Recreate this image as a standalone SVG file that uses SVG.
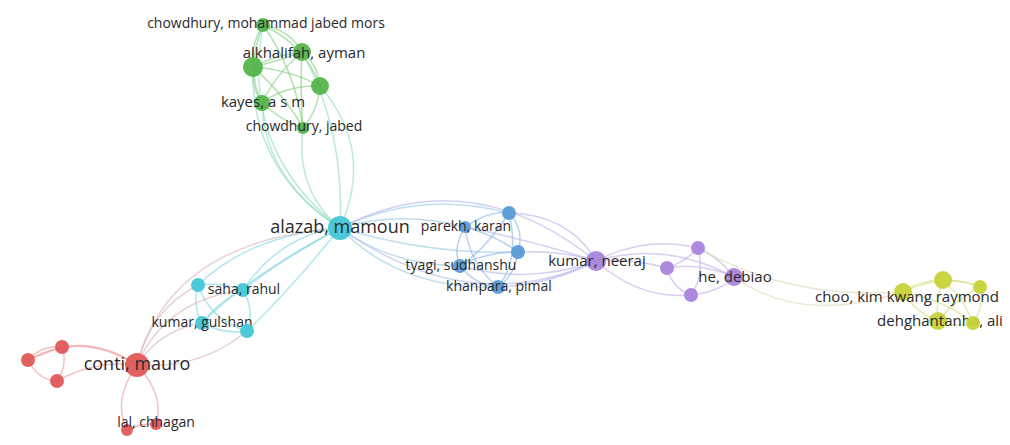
<svg xmlns="http://www.w3.org/2000/svg" width="1010" height="445" viewBox="0 0 1010 445">
  <style>
    .e { fill: none; stroke-width: 1.5; stroke-opacity: 0.6; stroke-linecap: round; }
    .eg { stroke: #7fcf77; }
    .egc { stroke: #8fdcbf; }
    .ec { stroke: #80d4e2; }
    .ecb { stroke: #93c6e6; }
    .eb { stroke: #8ab5e3; }
    .ebp { stroke: #b3b2ea; }
    .ep { stroke: #c4aaea; }
    .epy { stroke: #d8dcb8; }
    .ey { stroke: #d6de7a; }
    .er { stroke: #ee9797; }
    .erc { stroke: #d9b2b8; }
    .n { stroke: none; fill-opacity: 0.95; }
    .green { fill: #55b44c; }
    .cyan { fill: #43c7d7; }
    .blue { fill: #5a9ad6; }
    .purple { fill: #a884dc; }
    .yellow { fill: #c8d33a; }
    .red { fill: #e05858; }
    .lbl { font-family: "Open Sans", "Liberation Sans", sans-serif; font-size: 15px; fill: #2a2a2a; text-anchor: middle; }
    .big { font-size: 18px; }
    .sm { font-size: 14px; }
  </style>

  <!-- links between authors -->
  <g id="connectors">
    <!-- green cluster -->
    <path class="e eg" d="M263,25 Q290,30 302,52"/>
    <path class="e eg" d="M263,25 Q250,45 253,67"/>
    <path class="e eg" d="M263,25 Q245,70 262,103"/>
    <path class="e eg" d="M263,25 Q305,45 320,86"/>
    <path class="e eg" d="M263,25 Q295,70 303,128"/>
    <path class="e eg" d="M302,52 Q275,55 253,67"/>
    <path class="e eg" d="M302,52 Q275,62 253,67"/>
    <path class="e eg" d="M302,52 Q318,65 320,86"/>
    <path class="e eg" d="M302,52 Q275,75 262,103"/>
    <path class="e eg" d="M302,52 Q300,90 303,128"/>
    <path class="e eg" d="M253,67 Q290,70 320,86"/>
    <path class="e eg" d="M253,67 Q250,85 262,103"/>
    <path class="e eg" d="M253,67 Q285,95 303,128"/>
    <path class="e eg" d="M320,86 Q285,85 262,103"/>
    <path class="e eg" d="M320,86 Q318,110 303,128"/>
    <path class="e eg" d="M262,103 Q280,120 303,128"/>
    <!-- green to alazab -->
    <path class="e egc" d="M253,67 Q250,170 340,228"/>
    <path class="e egc" d="M262,103 Q265,180 340,228"/>
    <path class="e egc" d="M263,25 Q240,150 340,228"/>
    <path class="e egc" d="M303,128 Q295,190 340,228"/>
    <path class="e egc" d="M320,86 Q375,150 340,228"/>
    <path class="e egc" d="M302,52 Q345,130 340,228"/>
    <!-- alazab to blue / purple -->
    <path class="e ecb" d="M340,228 Q400,210 465,227"/>
    <path class="e ecb" d="M340,228 Q420,190 509,213"/>
    <path class="e ecb" d="M340,228 Q430,255 518,252"/>
    <path class="e ecb" d="M340,228 Q390,265 460,266"/>
    <path class="e ecb" d="M340,228 Q400,290 498,287"/>
    <path class="e ebp" d="M340,228 Q470,160 596,261"/>
    <path class="e ebp" d="M340,228 Q470,320 596,261"/>
    <!-- blue cluster -->
    <path class="e eb" d="M465,227 Q490,210 509,213"/>
    <path class="e eb" d="M465,227 Q495,235 518,252"/>
    <path class="e eb" d="M465,227 Q452,248 460,266"/>
    <path class="e eb" d="M465,227 Q470,265 498,287"/>
    <path class="e eb" d="M509,213 Q525,230 518,252"/>
    <path class="e eb" d="M509,213 Q485,250 460,266"/>
    <path class="e eb" d="M509,213 Q520,260 498,287"/>
    <path class="e eb" d="M518,252 Q485,252 460,266"/>
    <path class="e eb" d="M518,252 Q515,275 498,287"/>
    <path class="e eb" d="M460,266 Q475,285 498,287"/>
    <!-- blue to purple -->
    <path class="e ebp" d="M509,213 Q570,215 596,261"/>
    <path class="e ebp" d="M518,252 Q560,250 596,261"/>
    <path class="e ebp" d="M460,266 Q530,285 596,261"/>
    <path class="e ebp" d="M498,287 Q550,285 596,261"/>
    <path class="e ebp" d="M465,227 Q530,240 596,261"/>
    <!-- purple cluster -->
    <path class="e ep" d="M596,261 Q645,235 698,248"/>
    <path class="e ep" d="M596,261 Q630,258 667,268"/>
    <path class="e ep" d="M596,261 Q665,240 734,277"/>
    <path class="e ep" d="M596,261 Q640,300 691,295"/>
    <path class="e ep" d="M698,248 Q685,262 667,268"/>
    <path class="e ep" d="M698,248 Q720,258 734,277"/>
    <path class="e ep" d="M698,248 Q705,275 691,295"/>
    <path class="e ep" d="M667,268 Q700,262 734,277"/>
    <path class="e ep" d="M667,268 Q672,288 691,295"/>
    <path class="e ep" d="M691,295 Q720,292 734,277"/>
    <path class="e epy" d="M734,277 Q800,325 903,292"/>
    <path class="e epy" d="M698,248 Q790,300 903,292"/>
    <!-- yellow cluster -->
    <path class="e ey" d="M903,292 Q920,280 943,280"/>
    <path class="e ey" d="M903,292 Q945,272 980,287"/>
    <path class="e ey" d="M903,292 Q915,312 938,321"/>
    <path class="e ey" d="M903,292 Q945,300 973,323"/>
    <path class="e ey" d="M943,280 Q962,280 980,287"/>
    <path class="e ey" d="M943,280 Q935,300 938,321"/>
    <path class="e ey" d="M943,280 Q965,300 973,323"/>
    <path class="e ey" d="M980,287 Q985,305 973,323"/>
    <path class="e ey" d="M980,287 Q955,300 938,321"/>
    <path class="e ey" d="M938,321 Q955,328 973,323"/>
    <!-- cyan cluster -->
    <path class="e ec" d="M198,285 Q220,282 243,290"/>
    <path class="e ec" d="M198,285 Q192,305 202,323"/>
    <path class="e ec" d="M198,285 Q210,320 247,331"/>
    <path class="e ec" d="M243,290 Q220,300 202,323"/>
    <path class="e ec" d="M243,290 Q255,310 247,331"/>
    <path class="e ec" d="M202,323 Q225,335 247,331"/>
    <path class="e ec" d="M340,228 Q250,235 198,285"/>
    <path class="e ec" d="M340,228 Q280,260 243,290"/>
    <path class="e ec" d="M340,228 Q250,275 202,323"/>
    <path class="e ec" d="M340,228 Q290,290 247,331"/>
    <path class="e ec" d="M340,228 Q280,235 243,290"/>
    <!-- red to cyan -->
    <path class="e erc" d="M137,365 Q150,310 198,285"/>
    <path class="e erc" d="M137,365 Q165,300 243,290"/>
    <path class="e erc" d="M137,365 Q160,330 202,323"/>
    <path class="e erc" d="M137,365 Q200,370 247,331"/>
    <path class="e erc" d="M137,365 Q170,240 340,228"/>
    <!-- red cluster -->
    <path class="e er" d="M137,365 Q100,340 62,347"/>
    <path class="e er" d="M137,365 Q95,360 57,381"/>
    <path class="e er" d="M137,365 Q80,330 28,360"/>
    <path class="e er" d="M62,347 Q42,345 28,360"/>
    <path class="e er" d="M62,347 Q48,352 28,360"/>
    <path class="e er" d="M62,347 Q68,365 57,381"/>
    <path class="e er" d="M28,360 Q38,380 57,381"/>
    <path class="e er" d="M137,365 Q112,400 127,430"/>
    <path class="e er" d="M137,365 Q165,395 156,424"/>
    <path class="e er" d="M127,430 Q142,423 156,424"/>
  </g>

  <!-- green cluster -->
  <g id="node-chowdhury-mohammad"><circle class="n green" cx="263" cy="25" r="7"/><text class="lbl sm" x="266" y="28">chowdhury, mohammad jabed mors</text></g>
  <g id="node-alkhalifah"><circle class="n green" cx="302" cy="52" r="9"/><text class="lbl" x="304" y="58">alkhalifah, ayman</text></g>
  <g id="node-green-a"><circle class="n green" cx="253" cy="67" r="10"/></g>
  <g id="node-green-b"><circle class="n green" cx="320" cy="86" r="9"/></g>
  <g id="node-kayes"><circle class="n green" cx="262" cy="103" r="8"/><text class="lbl" x="263" y="107">kayes, a s m</text></g>
  <g id="node-chowdhury-jabed"><circle class="n green" cx="303" cy="128" r="6"/><text class="lbl sm" x="304" y="131">chowdhury, jabed</text></g>

  <!-- cyan cluster -->
  <g id="node-alazab"><circle class="n cyan" cx="340" cy="228" r="12"/><text class="lbl big" x="340" y="233">alazab, mamoun</text></g>
  <g id="node-cyan-a"><circle class="n cyan" cx="198" cy="285" r="7"/></g>
  <g id="node-saha"><circle class="n cyan" cx="243" cy="290" r="7"/><text class="lbl sm" x="244" y="294">saha, rahul</text></g>
  <g id="node-kumar-gulshan"><circle class="n cyan" cx="202" cy="323" r="7"/><text class="lbl sm" x="202" y="327">kumar, gulshan</text></g>
  <g id="node-cyan-b"><circle class="n cyan" cx="247" cy="331" r="7"/></g>

  <!-- blue cluster -->
  <g id="node-parekh"><circle class="n blue" cx="465" cy="227" r="6"/><text class="lbl sm" x="466" y="231">parekh, karan</text></g>
  <g id="node-blue-a"><circle class="n blue" cx="509" cy="213" r="7"/></g>
  <g id="node-blue-b"><circle class="n blue" cx="518" cy="252" r="7"/></g>
  <g id="node-tyagi"><circle class="n blue" cx="460" cy="266" r="7"/><text class="lbl sm" x="461" y="270">tyagi, sudhanshu</text></g>
  <g id="node-khanpara"><circle class="n blue" cx="498" cy="287" r="7"/><text class="lbl sm" x="499" y="291">khanpara, pimal</text></g>

  <!-- purple cluster -->
  <g id="node-kumar-neeraj"><circle class="n purple" cx="596" cy="261" r="10"/><text class="lbl" x="597" y="266">kumar, neeraj</text></g>
  <g id="node-purple-a"><circle class="n purple" cx="698" cy="248" r="7"/></g>
  <g id="node-purple-b"><circle class="n purple" cx="667" cy="268" r="7"/></g>
  <g id="node-he"><circle class="n purple" cx="734" cy="277" r="9"/><text class="lbl" x="735" y="282">he, debiao</text></g>
  <g id="node-purple-c"><circle class="n purple" cx="691" cy="295" r="7"/></g>

  <!-- yellow cluster -->
  <g id="node-choo"><circle class="n yellow" cx="903" cy="292" r="9"/><text class="lbl" x="907" y="302">choo, kim kwang raymond</text></g>
  <g id="node-yellow-a"><circle class="n yellow" cx="943" cy="280" r="9"/></g>
  <g id="node-yellow-b"><circle class="n yellow" cx="980" cy="287" r="7"/></g>
  <g id="node-dehghantanha"><circle class="n yellow" cx="938" cy="321" r="9"/><text class="lbl" x="940" y="326">dehghantanha, ali</text></g>
  <g id="node-yellow-c"><circle class="n yellow" cx="973" cy="323" r="7"/></g>

  <!-- red cluster -->
  <g id="node-conti"><circle class="n red" cx="137" cy="365" r="12"/><text class="lbl big" x="137" y="370">conti, mauro</text></g>
  <g id="node-red-a"><circle class="n red" cx="62" cy="347" r="7"/></g>
  <g id="node-red-b"><circle class="n red" cx="28" cy="360" r="7"/></g>
  <g id="node-red-c"><circle class="n red" cx="57" cy="381" r="7"/></g>
  <g id="node-lal-a"><circle class="n red" cx="127" cy="430" r="6"/></g>
  <g id="node-lal"><circle class="n red" cx="156" cy="424" r="6"/><text class="lbl sm" x="156" y="427">lal, chhagan</text></g>
</svg>
